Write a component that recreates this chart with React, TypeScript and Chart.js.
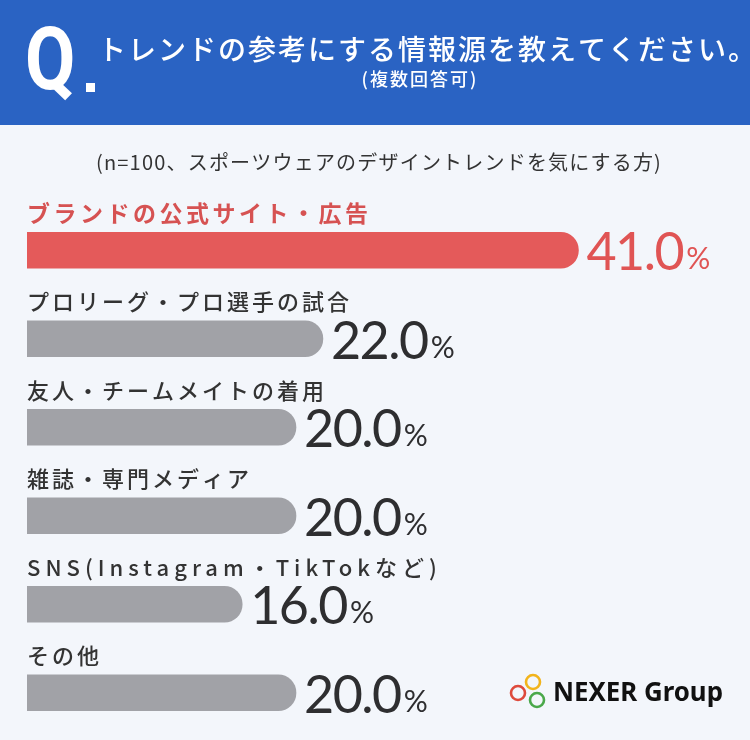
import React, { useEffect, useRef } from "react";
import { Chart, registerables } from "chart.js";

Chart.register(...registerables);

const titleText = "トレンドの参考にする情報源を教えてください。";
const titleNote = "(複数回答可)";
const sampleNote = "(n=100、スポーツウェアのデザイントレンドを気にする方)";
const categories = [
  "ブランドの公式サイト・広告",
  "プロリーグ・プロ選手の試合",
  "友人・チームメイトの着用",
  "雑誌・専門メディア",
  "SNS(Instagram・TikTokなど)",
  "その他",
];
const values = [41.0, 22.0, 20.0, 20.0, 16.0, 20.0];
const barColors = ["#e45a5a", "#a1a2a7", "#a1a2a7", "#a1a2a7", "#a1a2a7", "#a1a2a7"];
const labelColors = ["#d65252", "#333333", "#333333", "#333333", "#333333", "#333333"];
const valueColors = ["#e05454", "#2e2e30", "#2e2e30", "#2e2e30", "#2e2e30", "#2e2e30"];
const brandName = "NEXER Group";

const JP = '"Noto Sans CJK JP", "Noto Sans", sans-serif';

const decorPlugin = {
  id: "decor",
  beforeDraw(chart: any) {
    const ctx = chart.ctx as CanvasRenderingContext2D;
    const W = chart.width;
    const H = chart.height;
    ctx.save();
    ctx.fillStyle = "#f3f6fb";
    ctx.fillRect(0, 0, W, H);
    // header band
    ctx.fillStyle = "#2a63c3";
    ctx.fillRect(0, 0, W, 125);
    // Q.
    ctx.fillStyle = "#ffffff";
    ctx.save();
    ctx.translate(25, 89);
    ctx.scale(0.84, 1);
    ctx.font = "bold 87px Roboto, sans-serif";
    ctx.textBaseline = "alphabetic";
    ctx.fillText("Q", 0, 0);
    ctx.restore();
    ctx.fillRect(86, 83, 9, 9);
    // title
    ctx.font = `500 28px ${JP}`;
    ctx.textBaseline = "middle";
    ctx.textAlign = "left";
    (ctx as any).letterSpacing = "2px";
    ctx.fillText(titleText, 98, 49);
    ctx.font = `500 18px ${JP}`;
    ctx.textAlign = "center";
    ctx.fillText(titleNote, 420, 79);
    // sample note
    ctx.fillStyle = "#333333";
    ctx.font = `400 20px ${JP}`;
    (ctx as any).letterSpacing = "1.2px";
    ctx.fillText(sampleNote, 379, 162);
    (ctx as any).letterSpacing = "0px";
    // logo
    ctx.lineWidth = 2.6;
    const rings: [number, number, string][] = [
      [533, 682, "#f2b41c"],
      [518, 693, "#de4a3c"],
      [537, 700, "#4aa84a"],
    ];
    rings.forEach(([cx, cy, c]) => {
      ctx.strokeStyle = c;
      ctx.beginPath();
      ctx.arc(cx, cy, 7, 0, Math.PI * 2);
      ctx.stroke();
    });
    ctx.fillStyle = "#111111";
    ctx.font = `bold 26px "Noto Sans", sans-serif`;
    ctx.textAlign = "left";
    ctx.textBaseline = "alphabetic";
    ctx.fillText(brandName, 553, 701, 170);
    ctx.restore();
  },
  afterDatasetsDraw(chart: any) {
    const ctx = chart.ctx as CanvasRenderingContext2D;
    const meta = chart.getDatasetMeta(0);
    ctx.save();
    meta.data.forEach((bar: any, i: number) => {
      const { x, y, height, base } = bar.getProps(["x", "y", "height", "base"], true);
      const top = y - height / 2;
      const bottom = y + height / 2;
      // category label
      ctx.fillStyle = labelColors[i];
      const latin = /[A-Za-z]/.test(categories[i]);
      ctx.font = i === 0 ? `bold 23px ${JP}` : `500 22px ${JP}`;
      (ctx as any).letterSpacing = i === 0 ? "3.5px" : latin ? "5px" : "3px";
      ctx.textAlign = "left";
      ctx.textBaseline = "middle";
      ctx.fillText(categories[i], base, top - 19);
      // value label
      (ctx as any).letterSpacing = "-1.5px";
      ctx.fillStyle = valueColors[i];
      ctx.textBaseline = "alphabetic";
      ctx.font = `400 52px Lato, "Open Sans", sans-serif`;
      const num = values[i].toFixed(1);
      const vx = x + 8;
      ctx.fillText(num, vx, bottom + 2);
      const w = ctx.measureText(num).width;
      (ctx as any).letterSpacing = "0px";
      ctx.font = `400 30px Lato, "Open Sans", sans-serif`;
      ctx.fillText("%", vx + w + 3, bottom + 1);
    });
    ctx.restore();
  },
};

export default function App() {
  const ref = useRef<HTMLCanvasElement | null>(null);
  useEffect(() => {
    document.body.style.margin = "0";
    const canvas = ref.current;
    if (!canvas) return;
    const chart = new Chart(canvas, {
      type: "bar",
      data: {
        labels: categories,
        datasets: [
          {
            data: values,
            backgroundColor: barColors,
            borderRadius: 18,
            borderSkipped: "start",
            barThickness: 36,
          },
        ],
      },
      options: {
        indexAxis: "y",
        responsive: false,
        animation: false,
        layout: { padding: { left: 27, right: 50.5, top: 206, bottom: 3 } },
        scales: {
          x: { display: false, min: 0, max: 50 },
          y: { display: false },
        },
        plugins: {
          legend: { display: false },
          tooltip: { enabled: false },
          title: { display: false },
        },
      },
      plugins: [decorPlugin],
    });
    return () => chart.destroy();
  }, []);
  return (
    <div style={{ width: 750, height: 740 }}>
      <canvas ref={ref} width={750} height={740} style={{ display: "block" }} />
    </div>
  );
}
